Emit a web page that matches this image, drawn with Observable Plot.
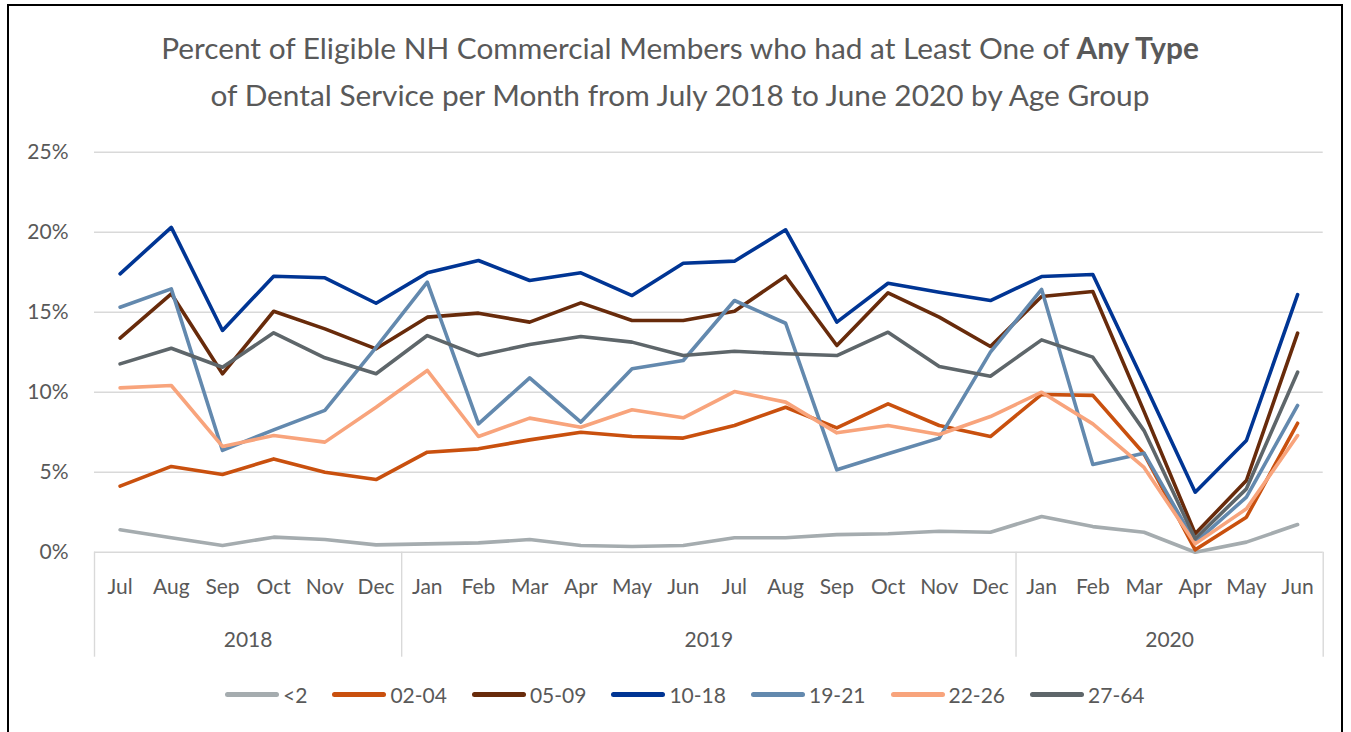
<!DOCTYPE html>
<html>
<head>
<meta charset="utf-8">
<script src="https://cdn.jsdelivr.net/npm/d3@7"></script>
<script src="https://cdn.jsdelivr.net/npm/@observablehq/plot@0.6"></script>
<style>
  html, body { margin: 0; padding: 0; background: #fff; }
  body { width: 1351px; height: 732px; overflow: hidden; position: relative; font-family: Lato, "Noto Sans", sans-serif; }
  #frame { position: absolute; left: 7px; top: 4px; width: 1336px; height: 740px; border: 2px solid #000; border-bottom: none; box-sizing: border-box; }
  #title { position: absolute; left: 0; top: 24px; width: 1360px; text-align: center; color: #595959; font-size: 29.8px; line-height: 47px; }
  #chart { position: absolute; left: 0; top: 130px; }
  #legend { position: absolute; left: 225px; top: 682px; display: flex; align-items: center; gap: 25px; color: #595959; font-size: 21px; }
  .item { display: flex; align-items: center; gap: 4px; }
  .sw { width: 54px; height: 4.5px; border-radius: 3px; }
</style>
</head>
<body>
<div id="frame"></div>
<div id="title">Percent of Eligible NH Commercial Members who had at Least One of <b>Any Type</b><br>of Dental Service per Month from July 2018 to June 2020 by Age Group</div>
<div id="chart"></div>
<div id="legend"></div>
<script>
const months = ["Jul","Aug","Sep","Oct","Nov","Dec","Jan","Feb","Mar","Apr","May","Jun","Jul","Aug","Sep","Oct","Nov","Dec","Jan","Feb","Mar","Apr","May","Jun"];
const years = ["2018","2018","2018","2018","2018","2018","2019","2019","2019","2019","2019","2019","2019","2019","2019","2019","2019","2019","2020","2020","2020","2020","2020","2020"];
const seriesNames = ["<2","02-04","05-09","10-18","19-21","22-26","27-64"];
const seriesColors = ["#A5ACAF","#C9500E","#682B0B","#003594","#6389AE","#F8A47C","#5E666A"];
const yTicks = [0,5,10,15,20,25];

const v_lt2   = [1.4,0.9,0.42,0.94,0.79,0.46, 0.52,0.58,0.79,0.42,0.36,0.42,0.9,0.9,1.1,1.15,1.31,1.25, 2.23,1.6,1.25,0.0,0.63,1.73];
const v_0204  = [4.13,5.36,4.86,5.83,5.0,4.54, 6.25,6.46,7.02,7.5,7.23,7.13,7.92,9.06,7.77,9.27,7.92,7.23, 9.86,9.8,6.15,0.15,2.19,8.06];
const v_0509  = [13.38,16.15,11.15,15.06,13.96,12.71, 14.69,14.94,14.38,15.58,14.48,14.48,15.06,17.25,12.92,16.21,14.69,12.86, 15.98,16.29,8.8,1.15,4.48,13.69];
const v_1018  = [17.4,20.3,13.86,17.25,17.15,15.56, 17.46,18.23,16.98,17.46,16.04,18.06,18.19,20.15,14.38,16.81,16.25,15.73, 17.23,17.36,10.6,3.75,6.98,16.1];
const v_1921  = [15.31,16.46,6.36,7.65,8.86,12.8, 16.88,8.02,10.9,8.13,11.46,11.98,15.73,14.31,5.15,6.15,7.13,12.5, 16.42,5.48,6.19,0.6,3.44,9.17];
const v_2226  = [10.27,10.42,6.61,7.29,6.88,9.06, 11.36,7.23,8.38,7.81,8.9,8.4,10.04,9.38,7.46,7.92,7.36,8.48, 10.0,8.02,5.3,0.52,2.71,7.29];
const v_2764  = [11.77,12.75,11.56,13.71,12.15,11.15, 13.54,12.29,12.98,13.48,13.13,12.29,12.56,12.4,12.29,13.75,11.6,11.0, 13.27,12.19,7.6,0.84,3.96,11.25];

const seriesValues = [v_lt2, v_0204, v_0509, v_1018, v_1921, v_2226, v_2764];

const data = [];
seriesNames.forEach((name, s) => {
  seriesValues[s].forEach((v, i) => data.push({series: name, i, value: v}));
});

const idx = d3.range(months.length);
const yearGroups = d3.groups(idx, i => years[i]).map(([y, is]) => ({year: y, first: d3.min(is), last: d3.max(is)}));
const yearCenters = yearGroups.map(g => (g.first + g.last) / 2);
const boundaries = [yearGroups[0].first - 0.5, ...yearGroups.map(g => g.last + 0.5)];
const yearAt = new Map(yearGroups.map(g => [(g.first + g.last) / 2, g.year]));

const textColor = "#595959";
const plot = Plot.plot({
  width: 1351,
  height: 540,
  marginLeft: 94,
  marginRight: 28.3,
  marginTop: 21.7,
  marginBottom: 118.3,
  style: {fontFamily: "Lato, 'Noto Sans', sans-serif", color: textColor, background: "transparent"},
  x: {domain: [-0.5, months.length - 0.5], axis: null, label: null},
  y: {domain: [0, 25], axis: null, label: null},
  color: {domain: seriesNames, range: seriesColors},
  marks: [
    Plot.gridY(yTicks, {stroke: "#d9d9d9", strokeOpacity: 1, strokeWidth: 1.4}),
    Plot.axisY(yTicks, {label: null, tickSize: 0, tickPadding: 26, tickFormat: d => d + "%", fontSize: 21, fill: textColor}),
    Plot.axisX(idx, {label: null, tickSize: 0, tickPadding: 26.4, tickFormat: i => months[i], fontSize: 21, fill: textColor}),
    Plot.axisX(yearCenters, {label: null, tickSize: 0, tickPadding: 79.4, tickFormat: c => yearAt.get(c), fontSize: 21, fill: textColor}),
    Plot.axisX(boundaries, {label: null, tickSize: 105, tickFormat: () => "", stroke: "#d9d9d9", strokeOpacity: 1, strokeWidth: 1.4}),
    Plot.line(data, {x: "i", y: "value", z: "series", stroke: "series", strokeWidth: 3.6, strokeLinejoin: "round", strokeLinecap: "round"})
  ]
});
document.getElementById("chart").appendChild(plot);

const legend = document.getElementById("legend");
seriesNames.forEach((name, s) => {
  const item = document.createElement("div");
  item.className = "item";
  const sw = document.createElement("div");
  sw.className = "sw";
  sw.style.background = seriesColors[s];
  const lab = document.createElement("span");
  lab.textContent = name;
  item.appendChild(sw);
  item.appendChild(lab);
  legend.appendChild(item);
});
</script>
</body>
</html>
